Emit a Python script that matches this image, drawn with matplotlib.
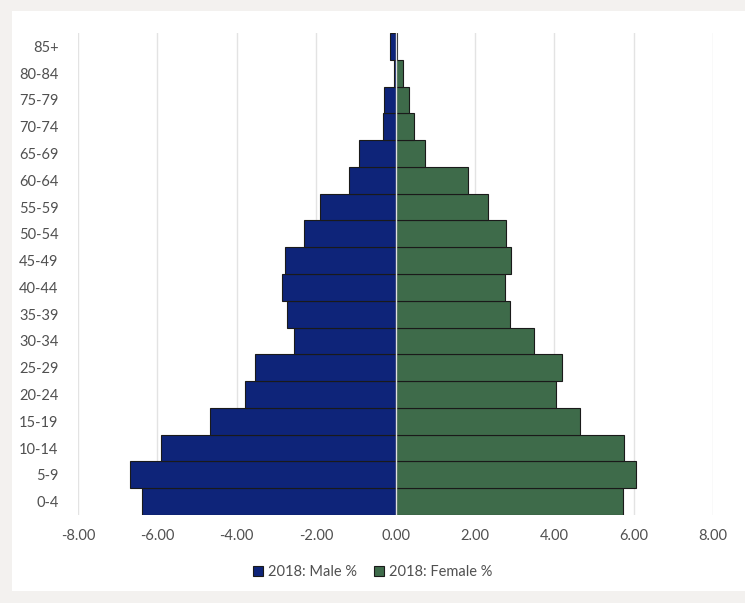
import matplotlib.pyplot as plt
from matplotlib.patches import Rectangle

plt.rcParams['font.family'] = ['Lato', 'DejaVu Sans']

edades = ["0-4", "5-9", "10-14", "15-19", "20-24", "25-29", "30-34", "35-39", "40-44",
          "45-49", "50-54", "55-59", "60-64", "65-69", "70-74", "75-79", "80-84", "85+"]
hombres = [-6.38, -6.68, -5.92, -4.68, -3.78, -3.54, -2.55, -2.73, -2.86,
           -2.78, -2.30, -1.90, -1.16, -0.93, -0.32, -0.28, -0.03, -0.13]
mujeres = [5.73, 6.05, 5.76, 4.64, 4.04, 4.19, 3.49, 2.89, 2.76,
           2.91, 2.78, 2.32, 1.83, 0.75, 0.46, 0.35, 0.18, 0.05]
ticks_x = [-8, -6, -4, -2, 0, 2, 4, 6, 8]

azul = "#0e2479"
verde = "#3e6b4a"

fig = plt.figure(figsize=(7.45, 6.03), dpi=100, facecolor="#f3f1ef")
# panel blanco del grafico (detras de los ejes)
fig.patches.append(Rectangle((12/745, 12/603), 733/745, 580/603, transform=fig.transFigure,
                             facecolor="white", edgecolor="none", zorder=-5))

ax = fig.add_axes([78/745, 1-515/603, 635/745, 482/603])
ax.set_facecolor("none")

pos = range(len(edades))
ax.barh(pos, hombres, height=1.0, color=azul, edgecolor="#1a1a1a", linewidth=0.8,
        label="2018: Male %", zorder=2)
ax.barh(pos, mujeres, height=1.0, color=verde, edgecolor="#1a1a1a", linewidth=0.8,
        label="2018: Female %", zorder=2)
ax.axvline(0, color="#e0e0e0", linewidth=1.0, zorder=3)

ax.set_xlim(-8, 8)
ax.set_ylim(-0.5, len(edades) - 0.5)
ax.set_xticks(ticks_x)
ax.set_xticklabels(["{:.2f}".format(t) for t in ticks_x])
ax.set_yticks(list(pos))
ax.set_yticklabels(edades)
ax.tick_params(length=0, colors="#505050", labelsize=10.5)
ax.tick_params(axis="x", pad=10)
ax.tick_params(axis="y", pad=14)
ax.grid(axis="x", color="#e3e3e3", linewidth=1.0, zorder=0)
ax.set_axisbelow(True)
for s in ax.spines.values():
    s.set_visible(False)

leg = fig.legend(loc="center", bbox_to_anchor=(0.5, 1-572/603), ncol=2, frameon=False,
                 fontsize=10.5, handlelength=0.7, handleheight=0.7, handletextpad=0.3,
                 columnspacing=1.2)
for t in leg.get_texts():
    t.set_color("#505050")

plt.savefig("out.png", dpi=100, facecolor=fig.get_facecolor())
